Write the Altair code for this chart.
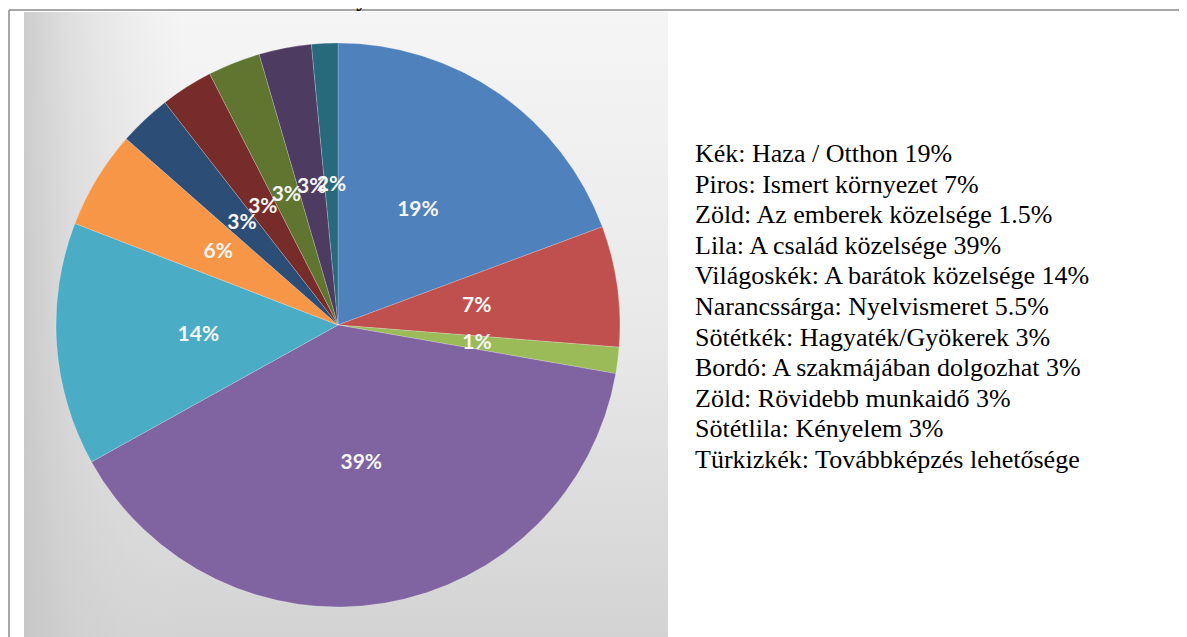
import altair as alt
import pandas as pd

# ---- data ----
title_text = ["A hazában való munkavállalás előnyei"]
categories = [
    "Haza / Otthon", "Ismert környezet", "Az emberek közelsége", "A család közelsége",
    "A barátok közelsége", "Nyelvismeret", "Hagyaték/Gyökerek", "A szakmájában dolgozhat",
    "Rövidebb munkaidő", "Kényelem", "Továbbképzés lehetősége",
]
values = [19.3, 6.9, 1.5, 39.1, 13.9, 5.6, 3.0, 3.0, 3.0, 3.0, 1.5]
slice_labels = ["19%", "7%", "1%", "39%", "14%", "6%", "3%", "3%", "3%", "3%", "2%"]
colors = ["#4F81BD", "#C0504D", "#9BBB59", "#8064A2", "#4BACC6", "#F79646",
          "#2C4D75", "#772C2A", "#5F7530", "#4D3B62", "#276A7C"]
legend_lines = [
    "Kék: Haza / Otthon 19%",
    "Piros: Ismert környezet 7%",
    "Zöld: Az emberek közelsége 1.5%",
    "Lila: A család közelsége 39%",
    "Világoskék: A barátok közelsége 14%",
    "Narancssárga: Nyelvismeret 5.5%",
    "Sötétkék: Hagyaték/Gyökerek 3%",
    "Bordó: A szakmájában dolgozhat 3%",
    "Zöld: Rövidebb munkaidő  3%",
    "Sötétlila: Kényelem 3%",
    "Türkizkék: Továbbképzés lehetősége",
]

W, H = 1171, 629
CX, CY, R = 330, 317, 282

pie_df = pd.DataFrame({
    "idx": list(range(len(categories))),
    "category": categories,
    "value": values,
    "label": slice_labels,
})
legend_df = pd.DataFrame({"i": list(range(len(legend_lines))), "line": legend_lines})
title_df = pd.DataFrame({"t": title_text})
frame_df = pd.DataFrame({"k": [0]})

# background panel (vertical gradient)
panel = alt.Chart(frame_df).mark_rect(
    color=alt.LinearGradient(
        gradient="linear", x1=0, x2=0, y1=0, y2=1,
        stops=[alt.GradientStop(color="#f5f5f5", offset=0),
               alt.GradientStop(color="#e9e9e9", offset=0.5),
               alt.GradientStop(color="#d3d3d3", offset=1)],
    )
).encode(x=alt.value(16), x2=alt.value(660), y=alt.value(4), y2=alt.value(H))

# darker left side shading
panel_left = alt.Chart(frame_df).mark_rect(
    color=alt.LinearGradient(
        gradient="linear", x1=0, x2=1, y1=0, y2=0,
        stops=[alt.GradientStop(color="rgba(195,195,195,0.8)", offset=0),
               alt.GradientStop(color="rgba(205,205,205,0.5)", offset=0.08),
               alt.GradientStop(color="rgba(220,220,220,0)", offset=0.25)],
    )
).encode(x=alt.value(16), x2=alt.value(660), y=alt.value(4), y2=alt.value(H))

# frame lines
top_line = alt.Chart(frame_df).mark_rule(color="#8a8a8a", strokeWidth=1.5).encode(
    x=alt.value(1), x2=alt.value(W), y=alt.value(2))
left_line = alt.Chart(frame_df).mark_rule(color="#8a8a8a", strokeWidth=1.5).encode(
    x=alt.value(1), y=alt.value(2), y2=alt.value(H))

theta = alt.Theta("value:Q", stack=True)
order = alt.Order("idx:Q", sort="ascending")

pie = alt.Chart(pie_df).mark_arc(
    radius=R, stroke="rgba(255,255,255,0.35)", strokeWidth=0.6
).encode(
    theta=theta,
    order=order,
    color=alt.Color("category:N", scale=alt.Scale(domain=categories, range=colors), legend=None),
    x=alt.value(CX), y=alt.value(CY),
)

legend_text = alt.Chart(legend_df).mark_text(
    font="Liberation Serif", fontSize=26, align="left", baseline="alphabetic"
).encode(
    x=alt.value(687),
    y=alt.Y("i:Q", scale=alt.Scale(domain=[0, 10], range=[154, 460]), axis=None),
    text="line:N",
)

pie_text = alt.Chart(pie_df).mark_text(
    radius=140, font="Lato", fontWeight="bold", fontSize=21, color="#f6f6f6"
).encode(
    theta=theta,
    order=order,
    text="label:N",
    x=alt.value(CX), y=alt.value(CY),
)

# title (cut off at the top, as in the reference)
title = alt.Chart(title_df).mark_text(
    font="Liberation Serif", fontWeight="bold", fontSize=22, align="left", baseline="bottom"
).encode(x=alt.value(17), y=alt.value(3), text="t:N")

chart = alt.layer(
    panel, panel_left, top_line, left_line, pie, legend_text, pie_text, title
).properties(
    width=W, height=H, padding=0, autosize=alt.AutoSizeParams(type="none"),
).configure_view(strokeWidth=0).configure_text(font="Liberation Serif", color="#000000")

chart.save("out.html", embed_options={"renderer": "svg", "actions": False})
